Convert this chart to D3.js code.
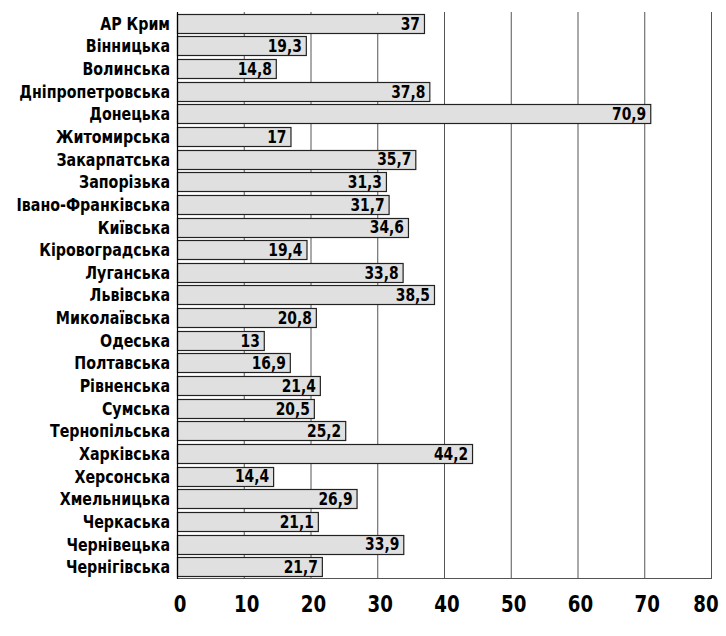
<!DOCTYPE html>
<html><head><meta charset="utf-8">
<script src="https://cdn.jsdelivr.net/npm/d3@7"></script>
<style>
html,body{margin:0;padding:0;background:#fff;}
text{font-family:"Liberation Sans Narrow","DejaVu Sans Condensed","Roboto",sans-serif;font-weight:bold;font-stretch:condensed;}
</style></head>
<body><svg id="c" width="726" height="636"></svg>
<script>
const categories = ["АР Крим","Вінницька","Волинська","Дніпропетровська","Донецька","Житомирська","Закарпатська","Запорізька","Івано-Франківська","Київська","Кіровоградська","Луганська","Львівська","Миколаївська","Одеська","Полтавська","Рівненська","Сумська","Тернопільська","Харківська","Херсонська","Хмельницька","Черкаська","Чернівецька","Чернігівська"];
const values = [37,19.3,14.8,37.8,70.9,17,35.7,31.3,31.7,34.6,19.4,33.8,38.5,20.8,13,16.9,21.4,20.5,25.2,44.2,14.4,26.9,21.1,33.9,21.7];
const valueLabels = ["37","19,3","14,8","37,8","70,9","17","35,7","31,3","31,7","34,6","19,4","33,8","38,5","20,8","13","16,9","21,4","20,5","25,2","44,2","14,4","26,9","21,1","33,9","21,7"];
const ticks = [0,10,20,30,40,50,60,70,80];

const svg = d3.select("#c");
const m = {left:177, right:711, top:12, bottom:578};
const x = d3.scaleLinear().domain([0,80]).range([m.left,m.right]);
const y = d3.scaleBand().domain(categories).range([m.top,m.bottom]).paddingInner(0.16).paddingOuter(0.08);

// gridlines
svg.append("g").selectAll("line").data(ticks.slice(1)).join("line")
  .attr("x1",d=>x(d)+0.5).attr("x2",d=>x(d)+0.5)
  .attr("y1",m.top).attr("y2",m.bottom)
  .attr("stroke","#555").attr("stroke-width",1);
// bottom axis line
svg.append("line").attr("x1",m.left).attr("x2",m.right+1).attr("y1",m.bottom+0.5).attr("y2",m.bottom+0.5)
  .attr("stroke","#555").attr("stroke-width",1);

// bars
svg.append("g").selectAll("rect").data(values).join("rect")
  .attr("x",x(0)+0.5).attr("y",(d,i)=>Math.round(y(categories[i]))+0.5)
  .attr("width",d=>x(d)-x(0)).attr("height",Math.round(y.bandwidth()))
  .attr("fill","#e0e0e0").attr("stroke","#222").attr("stroke-width",1.2);

// left axis line
svg.append("line").attr("x1",m.left+0.5).attr("x2",m.left+0.5).attr("y1",m.top).attr("y2",m.bottom+1)
  .attr("stroke","#000").attr("stroke-width",1.2);

// value labels
svg.append("g").selectAll("text").data(values).join("text")
  .attr("transform",(d,i)=>`translate(${x(d)-4},${y(categories[i])+y.bandwidth()/2}) scale(0.88,1)`)
  .attr("dy","0.36em").attr("text-anchor","end")
  .attr("font-size",17.5).attr("fill","#000")
  .text((d,i)=>valueLabels[i]);

// category labels
svg.append("g").selectAll("text").data(categories).join("text")
  .attr("transform",d=>`translate(${m.left-7},${y(d)+y.bandwidth()/2}) scale(0.88,1)`)
  .attr("dy","0.36em").attr("text-anchor","end")
  .attr("font-size",18).attr("fill","#000")
  .text(d=>d);

// tick labels
svg.append("g").selectAll("text").data(ticks).join("text")
  .attr("transform",(d,i)=>`translate(${i===ticks.length-1 ? x(d)-5 : x(d)+3},612) scale(0.88,1)`)
  .attr("text-anchor","middle").attr("font-size",23).attr("fill","#000")
  .text(d=>d);
</script></body></html>
